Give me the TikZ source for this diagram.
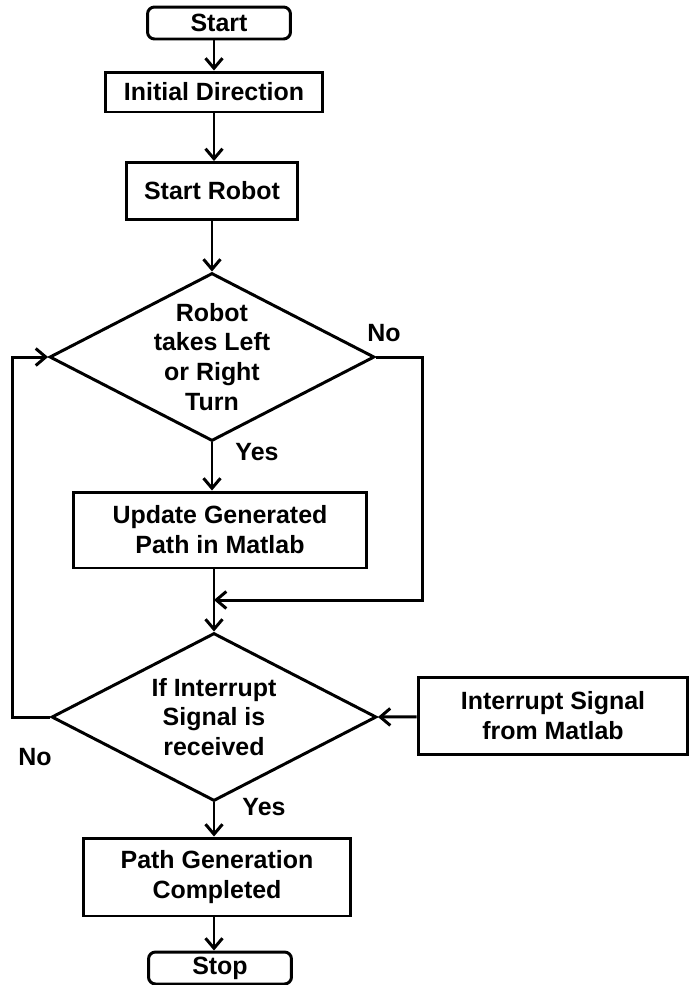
\documentclass[tikz,border=0pt]{standalone}
\usepackage{fontspec}
\setmainfont{Liberation Sans}
\usetikzlibrary{positioning, arrows.meta, shapes.geometric}

\begin{document}
\begin{tikzpicture}[
      x=0.02cm, y=-0.02cm, % one unit per pixel, y pointing down
      >={Straight Barb[length=2mm,width=3.4mm]},
      font=\fontsize{14.2}{17}\selectfont\bfseries,
      line width=1.7pt,
      terminal/.style={draw, rounded corners=4pt, minimum width=2.86cm, minimum height=0.64cm, inner sep=0pt},
      process/.style={draw, align=center, inner sep=0pt},
      decision/.style={draw, diamond, inner sep=0pt, minimum width=6.5cm, minimum height=3.36cm},
      flow/.style={->},
    ]
    \useasboundingbox (0,0) rectangle (689,985);

    % ---- main column ----------------------------------------------------
    \node[terminal] (start) at (219,23) {Start};
    \node[process, minimum width=4.36cm, minimum height=0.8cm] (initdir) at (214,92) {Initial Direction};
    \node[process, minimum width=3.42cm, minimum height=1.14cm] (robot) at (212,191) {Start Robot};
    \node[decision, label={[align=center]center:{Robot\\takes Left\\or Right\\Turn}}] (turn) at (212,357) {};
    \node[process, minimum width=5.88cm, minimum height=1.52cm] (update) at (220,530) {Update Generated\\Path in Matlab};
    \node[decision, label={[align=center]center:{If Interrupt\\Signal is\\received}}] (check) at (214,717) {};
    \node[process, minimum width=5.36cm, minimum height=1.56cm] (pathgen) at (217,877) {Path Generation\\Completed};
    \node[terminal] (stop) at (220,968) {Stop};

    % ---- side box -------------------------------------------------------
    \node[process, minimum width=5.4cm, minimum height=1.54cm] (intr) at (553,716) {Interrupt Signal\\from Matlab};

    % ---- branch labels --------------------------------------------------
    \node (noturn) at (384,333) {No};
    \node (yesturn) at (257,452) {Yes};
    \node (nointr) at (35,757) {No};
    \node (yesintr) at (264,807) {Yes};

    \coordinate (merge) at (214,600);

    % ---- connectors -----------------------------------------------------
    \draw[flow] (start.south -| initdir.north) -- (initdir);
    \draw[flow] (initdir) -- (robot.north -| initdir);
    \draw[flow] (robot.south -| turn.north) -- (turn.north);
    \draw[flow] (turn.south) -- (update.north -| turn.south);
    \draw[flow] (update.south -| check.north) -- (check.north);
    \draw[flow] (turn.east) -- ++(47,0) |- (merge);
    \draw[flow] (check.west) -- ++(-38,0) |- (turn.west);
    \draw[flow] (intr) -- (check.east);
    \draw[flow] (check.south) -- (pathgen.north -| check.south);
    \draw[flow] (pathgen.south -| check.south) -- (stop.north -| check.south);
  \end{tikzpicture}
\end{document}
